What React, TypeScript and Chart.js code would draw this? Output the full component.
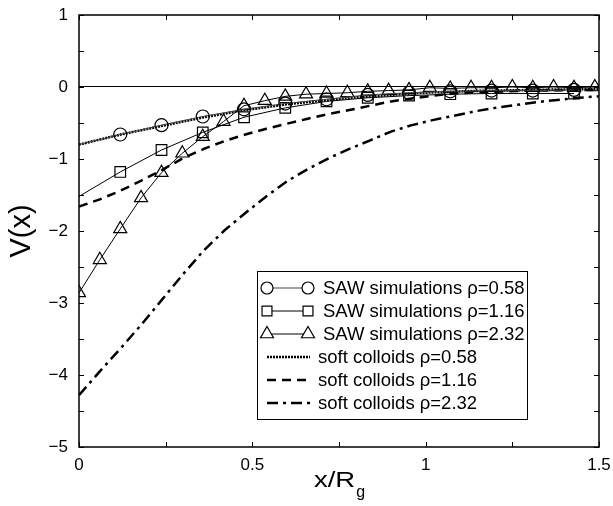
import React, { useEffect, useRef } from "react";
import { Chart, registerables } from "chart.js";
import { drawPoint } from "chart.js/helpers";

Chart.register(...registerables);

const FONT = "'Liberation Sans', Arial, Helvetica, sans-serif";

// SAW simulations: fine grid (triangles) and every second point (circles, squares)
const sawX = [0, 0.06, 0.119, 0.179, 0.238, 0.298, 0.357, 0.417, 0.476, 0.536, 0.595, 0.655, 0.714, 0.774, 0.833, 0.893, 0.952, 1.012, 1.071, 1.131, 1.19, 1.25, 1.309, 1.369, 1.428, 1.488];
const saw232 = [-2.86, -2.4, -1.97, -1.54, -1.19, -0.92, -0.69, -0.48, -0.26, -0.19, -0.13, -0.1, -0.09, -0.08, -0.06, -0.05, -0.04, -0.01, -0.02, -0.01, -0.01, 0.0, -0.01, 0.0, -0.01, 0.0];

const sawMarkX = [0, 0.119, 0.238, 0.357, 0.476, 0.595, 0.714, 0.833, 0.952, 1.071, 1.19, 1.309, 1.428];
const saw058 = [-0.8, -0.66, -0.53, -0.41, -0.31, -0.23, -0.17, -0.11, -0.08, -0.06, -0.05, -0.05, -0.04];
const saw116 = [-1.52, -1.18, -0.875, -0.63, -0.42, -0.29, -0.2, -0.15, -0.12, -0.1, -0.09, -0.09, -0.09];
// the first point of circles/squares carries no symbol
const sawMarkShown = [false, true, true, true, true, true, true, true, true, true, true, true, true];

// soft colloids (theory curves)
const softX = [0, 0.06, 0.12, 0.18, 0.24, 0.3, 0.36, 0.42, 0.48, 0.54, 0.6, 0.66, 0.72, 0.78, 0.84, 0.9, 0.96, 1.02, 1.08, 1.14, 1.2, 1.26, 1.32, 1.38, 1.44, 1.5];
const soft058 = [-0.8, -0.73, -0.66, -0.6, -0.54, -0.48, -0.42, -0.37, -0.32, -0.28, -0.24, -0.21, -0.18, -0.15, -0.13, -0.11, -0.09, -0.075, -0.065, -0.055, -0.05, -0.045, -0.04, -0.035, -0.03, -0.03];
const soft116 = [-1.66, -1.56, -1.44, -1.3, -1.15, -0.99, -0.86, -0.75, -0.66, -0.58, -0.51, -0.44, -0.375, -0.32, -0.26, -0.2, -0.16, -0.12, -0.09, -0.075, -0.065, -0.055, -0.05, -0.045, -0.04, -0.04];
const soft232 = [-4.28, -3.95, -3.63, -3.3, -2.95, -2.6, -2.27, -1.99, -1.75, -1.52, -1.31, -1.14, -0.99, -0.86, -0.74, -0.62, -0.53, -0.46, -0.4, -0.34, -0.29, -0.25, -0.21, -0.18, -0.15, -0.13];

const seriesLabels = [
  "SAW simulations \u03c1=0.58",
  "SAW simulations \u03c1=1.16",
  "SAW simulations \u03c1=2.32",
  "soft colloids \u03c1=0.58",
  "soft colloids \u03c1=1.16",
  "soft colloids \u03c1=2.32",
];

const xTitle = "x/R";
const xTitleSub = "g";
const yTitle = "V(x)";

const pts = (xs: number[], ys: number[]) => xs.map((x, i) => ({ x, y: ys[i] }));

const fmt = (v: number) => (v < 0 ? "\u2212" + String(-v) : String(v));

const framePlugin = {
  id: "frameAndTicks",
  afterDatasetsDraw(chart: any) {
    const { ctx, chartArea } = chart;
    const { left, right, top, bottom } = chartArea;
    const xs = chart.scales.x;
    const ys = chart.scales.y;
    ctx.save();
    ctx.strokeStyle = "#000";
    ctx.lineWidth = 1;
    const tl = 5;
    ctx.beginPath();
    xs.ticks.forEach((t: any) => {
      const p = Math.round(xs.getPixelForValue(t.value)) + 0.5;
      ctx.moveTo(p, bottom);
      ctx.lineTo(p, bottom - tl);
      ctx.moveTo(p, top);
      ctx.lineTo(p, top + tl);
    });
    ys.ticks.forEach((t: any) => {
      const p = Math.round(ys.getPixelForValue(t.value)) + 0.5;
      ctx.moveTo(left, p);
      ctx.lineTo(left + tl, p);
      ctx.moveTo(right, p);
      ctx.lineTo(right - tl, p);
    });
    ctx.stroke();
    ctx.lineWidth = 1.5;
    ctx.strokeRect(left, top, right - left, bottom - top);

    // axis titles
    ctx.fillStyle = "#000";
    ctx.textBaseline = "alphabetic";
    ctx.font = `22px ${FONT}`;
    const mainW = ctx.measureText(xTitle).width;
    const sx = 1.25;
    ctx.font = `16px ${FONT}`;
    const subW = ctx.measureText(xTitleSub).width;
    const totalW = mainW * sx + subW;
    const cx = (left + right) / 2;
    const x0 = cx - totalW / 2;
    ctx.save();
    ctx.translate(x0, 487);
    ctx.scale(sx, 1);
    ctx.font = `22px ${FONT}`;
    ctx.textAlign = "left";
    ctx.fillText(xTitle, 0, 0);
    ctx.restore();
    ctx.font = `16px ${FONT}`;
    ctx.textAlign = "left";
    ctx.fillText(xTitleSub, x0 + mainW * sx + 1, 497);

    ctx.save();
    ctx.translate(30, (top + bottom) / 2);
    ctx.rotate(-Math.PI / 2);
    ctx.font = `29px ${FONT}`;
    ctx.textAlign = "center";
    ctx.fillText(yTitle, 0, 0);
    ctx.restore();

    // legend
    const bx = left + 178;
    const by = top + 256;
    const bw = 270;
    const bh = 148;
    ctx.fillStyle = "#fff";
    ctx.fillRect(bx, by, bw, bh);
    ctx.strokeStyle = "#000";
    ctx.lineWidth = 1;
    ctx.strokeRect(bx + 0.5, by + 0.5, bw, bh);
    chart.data.datasets.forEach((ds: any, i: number) => {
      const cy = by + 17 + i * 23;
      const hasMarker = i < 3;
      ctx.save();
      ctx.strokeStyle = ds.borderColor;
      ctx.lineWidth = ds.borderWidth;
      ctx.setLineDash(ds.borderDash || []);
      ctx.beginPath();
      ctx.moveTo(bx + 10, cy);
      ctx.lineTo(bx + (hasMarker ? 51 : 53), cy);
      ctx.stroke();
      ctx.setLineDash([]);
      if (hasMarker) {
        ctx.fillStyle = "#fff";
        ctx.strokeStyle = "#000";
        ctx.lineWidth = 1.2;
        const opts = { pointStyle: ds.pointStyle, radius: ds.legendRadius, rotation: 0, borderWidth: 1.2 };
        drawPoint(ctx, opts as any, bx + 10, cy);
        drawPoint(ctx, opts as any, bx + 51, cy);
      }
      ctx.restore();
      ctx.fillStyle = "#000";
      ctx.font = `18.5px ${FONT}`;
      ctx.textAlign = "left";
      ctx.textBaseline = "middle";
      ctx.fillText(seriesLabels[i], bx + (i < 3 ? 66 : 61), cy + 1);
    });
    ctx.restore();
  },
};

export default function App() {
  const ref = useRef<HTMLCanvasElement | null>(null);
  useEffect(() => {
    if (!ref.current) return;
    const markR = (shown: boolean[], r: number) => shown.map((s) => (s ? r : 0));
    const chart = new Chart(ref.current, {
      type: "scatter",
      data: {
        datasets: [
          {
            label: seriesLabels[0],
            data: pts(sawMarkX, saw058),
            showLine: true,
            borderColor: "#444",
            borderWidth: 1,
            pointStyle: "circle",
            pointRadius: markR(sawMarkShown, 6.5),
            legendRadius: 6,
            pointBorderColor: "#000",
            pointBackgroundColor: "rgba(0,0,0,0)",
            pointBorderWidth: 1.2,
          } as any,
          {
            label: seriesLabels[1],
            data: pts(sawMarkX, saw116),
            showLine: true,
            borderColor: "#000",
            borderWidth: 1,
            pointStyle: "rect",
            pointRadius: markR(sawMarkShown, 7.5),
            legendRadius: 7,
            pointBorderColor: "#000",
            pointBackgroundColor: "rgba(0,0,0,0)",
            pointBorderWidth: 1.2,
          } as any,
          {
            label: seriesLabels[2],
            data: pts(sawX, saw232),
            showLine: true,
            borderColor: "#000",
            borderWidth: 1,
            pointStyle: "triangle",
            pointRadius: 7.5,
            legendRadius: 7.5,
            pointBorderColor: "#000",
            pointBackgroundColor: "rgba(0,0,0,0)",
            pointBorderWidth: 1.2,
          } as any,
          {
            label: seriesLabels[3],
            data: pts(softX, soft058),
            showLine: true,
            borderColor: "#000",
            borderWidth: 2.5,
            borderDash: [2, 1],
            pointRadius: 0,
          },
          {
            label: seriesLabels[4],
            data: pts(softX, soft116),
            showLine: true,
            borderColor: "#000",
            borderWidth: 2.5,
            borderDash: [9, 6],
            pointRadius: 0,
          },
          {
            label: seriesLabels[5],
            data: pts(softX, soft232),
            showLine: true,
            borderColor: "#000",
            borderWidth: 2.5,
            borderDash: [11, 5, 3, 5],
            pointRadius: 0,
          },
        ],
      },
      options: {
        animation: false,
        responsive: false,
        maintainAspectRatio: false,
        layout: { padding: { top: 15, right: 14, left: 0, bottom: 0 } },
        plugins: { legend: { display: false }, tooltip: { enabled: false } },
        elements: { line: { tension: 0 } },
        scales: {
          x: {
            type: "linear",
            min: 0,
            max: 1.5,
            ticks: {
              stepSize: 0.25,
              autoSkip: false,
              maxRotation: 0,
              padding: 8,
              color: "#000",
              font: { family: FONT, size: 17 },
              callback: (v: any) => (Math.abs(v * 2 - Math.round(v * 2)) < 1e-6 ? fmt(v) : ""),
            },
            grid: { display: false, drawTicks: false },
            border: { display: false },
            afterFit: (s: any) => {
              s.height = 59;
              s.paddingLeft = 0;
              s.paddingRight = 0;
            },
          },
          y: {
            type: "linear",
            min: -5,
            max: 1,
            ticks: {
              stepSize: 0.5,
              autoSkip: false,
              padding: 11,
              color: "#000",
              font: { family: FONT, size: 17 },
              callback: (v: any) => (Math.abs(v - Math.round(v)) < 1e-6 ? fmt(v) : ""),
            },
            grid: {
              drawTicks: false,
              lineWidth: 1,
              color: (c: any) => (c.tick && c.tick.value === 0 ? "#000" : "rgba(0,0,0,0)"),
            },
            border: { display: false },
            afterFit: (s: any) => {
              s.width = 79;
              s.paddingTop = 0;
              s.paddingBottom = 0;
            },
          },
        },
      },
      plugins: [framePlugin],
    });
    return () => chart.destroy();
  }, []);
  return (
    <div style={{ position: "fixed", left: 0, top: 0, width: 613, height: 506, background: "#fff" }}>
      <canvas ref={ref} width={613} height={506} style={{ width: 613, height: 506, display: "block" }} />
    </div>
  );
}
